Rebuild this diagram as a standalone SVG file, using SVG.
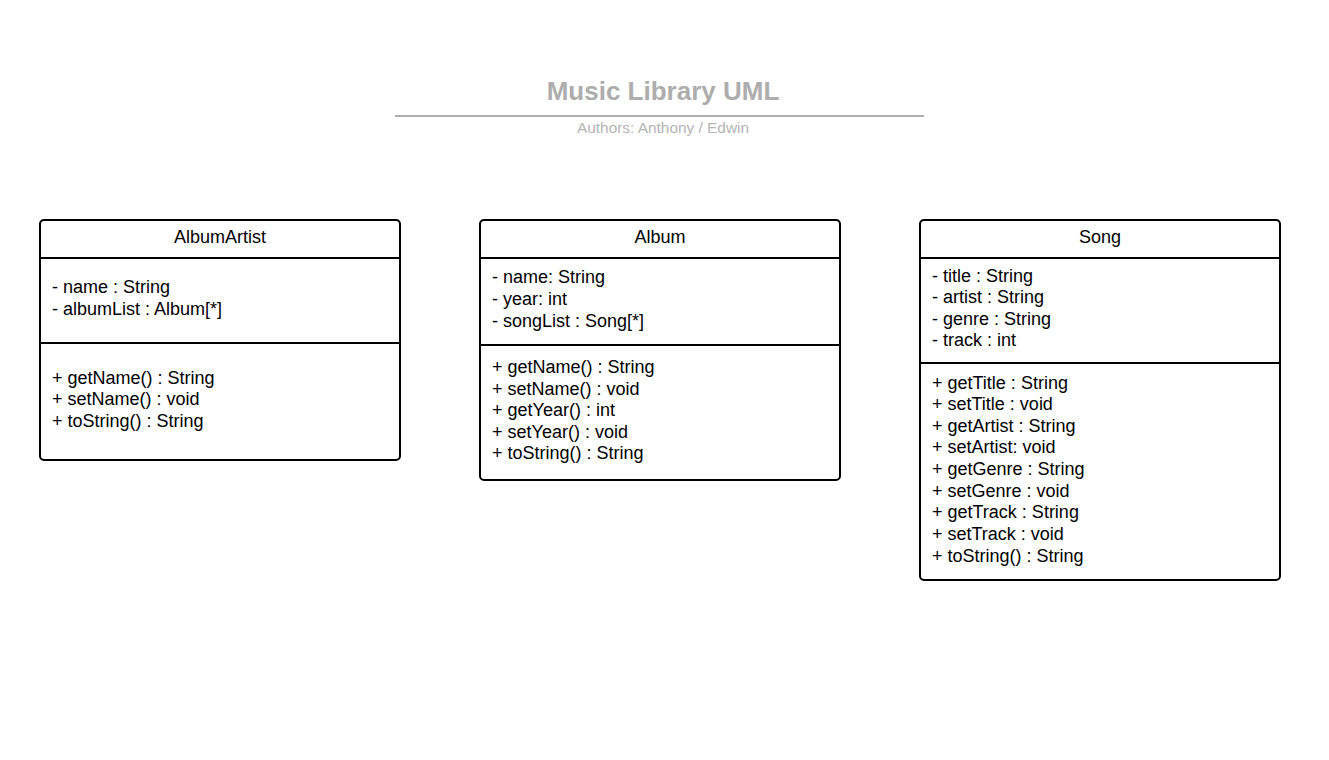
<svg xmlns="http://www.w3.org/2000/svg" width="1329" height="760" viewBox="0 0 1329 760">
<style>
.box{fill:#fff;stroke:#000;stroke-width:2}
.div{stroke:#000;stroke-width:2}
.t{font-family:"Liberation Sans",Arial,sans-serif;font-size:18px;fill:#000}
.h{text-anchor:middle}
</style>
<rect width="1329" height="760" fill="#fff"/>
<g id="title">
<text x="663" y="100" text-anchor="middle" font-family="Liberation Sans,Arial,sans-serif" font-size="26" font-weight="bold" fill="#adadad">Music Library UML</text>
<line x1="395" y1="116" x2="924" y2="116" stroke="#adadad" stroke-width="2"/>
<text x="663" y="133" text-anchor="middle" font-family="Liberation Sans,Arial,sans-serif" font-size="15.4" fill="#b5b5b5">Authors: Anthony / Edwin</text>
</g>
<g id="AlbumArtist">
<rect class="box" x="40" y="220" width="360" height="240" rx="4"/>
<line class="div" x1="40" y1="258" x2="400" y2="258"/>
<line class="div" x1="40" y1="343" x2="400" y2="343"/>
<text class="t h" x="220" y="243">AlbumArtist</text>
<text class="t" x="52" y="293">- name : String</text>
<text class="t" x="52" y="315">- albumList : Album[*]</text>
<text class="t" x="52" y="384">+ getName() : String</text>
<text class="t" x="52" y="405">+ setName() : void</text>
<text class="t" x="52" y="427">+ toString() : String</text>
</g>
<g id="Album">
<rect class="box" x="480" y="220" width="360" height="260" rx="4"/>
<line class="div" x1="480" y1="258" x2="840" y2="258"/>
<line class="div" x1="480" y1="345" x2="840" y2="345"/>
<text class="t h" x="660" y="243">Album</text>
<text class="t" x="492" y="283">- name: String</text>
<text class="t" x="492" y="305">- year: int</text>
<text class="t" x="492" y="327">- songList : Song[*]</text>
<text class="t" x="492" y="373">+ getName() : String</text>
<text class="t" x="492" y="395">+ setName() : void</text>
<text class="t" x="492" y="416">+ getYear() : int</text>
<text class="t" x="492" y="438">+ setYear() : void</text>
<text class="t" x="492" y="459">+ toString() : String</text>
</g>
<g id="Song">
<rect class="box" x="920" y="220" width="360" height="360" rx="4"/>
<line class="div" x1="920" y1="258" x2="1280" y2="258"/>
<line class="div" x1="920" y1="363" x2="1280" y2="363"/>
<text class="t h" x="1100" y="243">Song</text>
<text class="t" x="932" y="282">- title : String</text>
<text class="t" x="932" y="303">- artist : String</text>
<text class="t" x="932" y="325">- genre : String</text>
<text class="t" x="932" y="346">- track : int</text>
<text class="t" x="932" y="389">+ getTitle : String</text>
<text class="t" x="932" y="410">+ setTitle : void</text>
<text class="t" x="932" y="432">+ getArtist : String</text>
<text class="t" x="932" y="453">+ setArtist: void</text>
<text class="t" x="932" y="475">+ getGenre : String</text>
<text class="t" x="932" y="497">+ setGenre : void</text>
<text class="t" x="932" y="518">+ getTrack : String</text>
<text class="t" x="932" y="540">+ setTrack : void</text>
<text class="t" x="932" y="562">+ toString() : String</text>
</g>
<g id="connectors"></g>
</svg>
